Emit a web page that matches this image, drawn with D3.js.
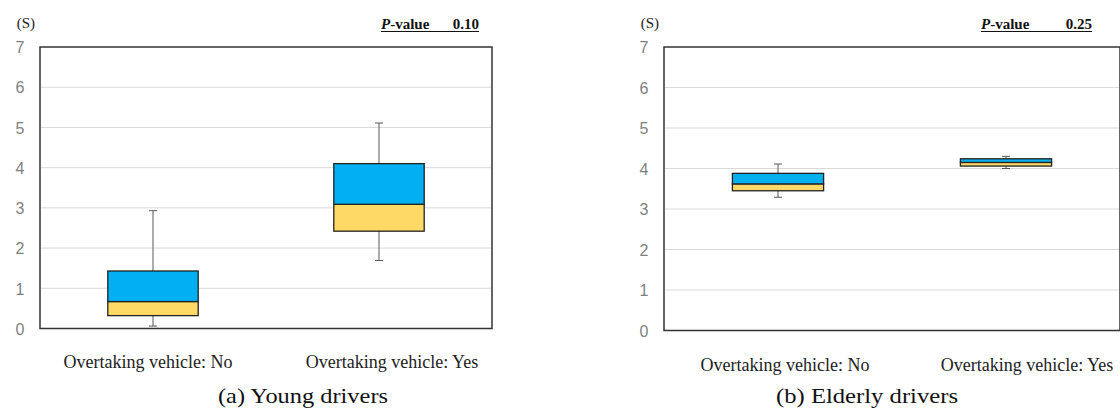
<!DOCTYPE html>
<html>
<head>
<meta charset="utf-8">
<script src="https://cdn.jsdelivr.net/npm/d3@7.9.0/dist/d3.min.js"></script>
<style>
  html, body { margin: 0; padding: 0; background: #fff; }
  svg { display: block; font-family: 'Times New Roman', 'Liberation Serif', serif; }
</style>
</head>
<body>
<div id="chart"></div>
<script>
const categories = ['Overtaking vehicle: No', 'Overtaking vehicle: Yes'];
const yTicks = [0, 1, 2, 3, 4, 5, 6, 7];

// Young drivers
const youngMin = [0.06, 1.69];
const youngQ1 = [0.32, 2.42];
const youngMedian = [0.67, 3.09];
const youngQ3 = [1.43, 4.1];
const youngMax = [2.93, 5.11];

// Elderly drivers
const elderMin = [3.29, 4.0];
const elderQ1 = [3.45, 4.06];
const elderMedian = [3.62, 4.15];
const elderQ3 = [3.88, 4.24];
const elderMax = [4.11, 4.3];

const pValues = ['0.10', '0.25'];
const captions = ['(a) Young drivers', '(b) Elderly drivers'];

const colorUpper = '#00b0f0';
const colorLower = '#ffd966';
const whiskerColor = '#595959';
const serif = "'Times New Roman', 'Liberation Serif', serif";

const svg = d3.select('#chart')
  .append('svg')
  .attr('width', 1120)
  .attr('height', 410);

const toRows = (mins, q1s, meds, q3s, maxs) =>
  categories.map((c, i) => ({
    cat: c,
    min: mins[i],
    q1: q1s[i],
    median: meds[i],
    q3: q3s[i],
    max: maxs[i],
  }));

const panels = [
  {
    data: toRows(youngMin, youngQ1, youngMedian, youngQ3, youngMax),
    left: 40, right: 492, top: 47, bottom: 328.5,
    labelOffsets: [-5, 13], labelY: 368,
    pStart: 381, pEnd: 479,
    captionX: 303,
    pValue: pValues[0], caption: captions[0],
  },
  {
    data: toRows(elderMin, elderQ1, elderMedian, elderQ3, elderMax),
    left: 664, right: 1120, top: 47, bottom: 330.5,
    labelOffsets: [7, 21], labelY: 371,
    pStart: 981, pEnd: 1092,
    captionX: 867,
    pValue: pValues[1], caption: captions[1],
  },
];

panels.forEach(drawPanel);

function drawPanel(p) {
  const w = p.right - p.left;
  const h = p.bottom - p.top;
  const g = svg.append('g').attr('transform', `translate(${p.left},${p.top})`);

  const x = d3.scaleBand().domain(categories).range([0, w]).padding(0);
  const y = d3.scaleLinear().domain([0, 7]).range([h, 0]);

  // gridlines
  g.append('g')
    .selectAll('line')
    .data(yTicks.filter((t) => t > 0 && t < 7))
    .join('line')
    .attr('x1', 0)
    .attr('x2', w)
    .attr('y1', (d) => y(d))
    .attr('y2', (d) => y(d))
    .attr('stroke', '#d9d9d9')
    .attr('stroke-width', 1);

  // y axis labels
  const yAxis = g.append('g')
    .call(d3.axisLeft(y).tickValues(yTicks).tickSize(0).tickPadding(0).tickFormat(d3.format('d')));
  yAxis.select('.domain').remove();
  yAxis.selectAll('text')
    .attr('x', -20)
    .attr('text-anchor', 'middle')
    .attr('fill', '#7f7f7f')
    .style('font-size', '16px')
    .style('font-family', "'Liberation Sans', Arial, sans-serif")
    .attr('dy', '0.36em');

  // unit label
  g.append('text')
    .attr('x', -5)
    .attr('y', -19)
    .attr('text-anchor', 'end')
    .attr('fill', '#222')
    .style('font-size', '15px')
    .text('(S)');

  // p-value, underlined across the gap
  const px0 = p.pStart - p.left;
  const px1 = p.pEnd - p.left;
  const pv = g.append('text')
    .attr('x', px0)
    .attr('y', -18)
    .attr('fill', '#111')
    .style('font-size', '15px')
    .style('font-weight', 'bold');
  pv.append('tspan').style('font-style', 'italic').text('P');
  pv.append('tspan').text('-value');
  g.append('text')
    .attr('x', px1)
    .attr('y', -18)
    .attr('text-anchor', 'end')
    .attr('fill', '#111')
    .style('font-size', '15px')
    .style('font-weight', 'bold')
    .text(p.pValue);
  g.append('line')
    .attr('x1', px0).attr('x2', px1)
    .attr('y1', -15.5).attr('y2', -15.5)
    .attr('stroke', '#111')
    .attr('stroke-width', 1);

  const bw = x.bandwidth() * 0.4;
  const cx = (d) => x(d.cat) + x.bandwidth() / 2;

  const boxes = g.append('g')
    .selectAll('g')
    .data(p.data)
    .join('g');

  // whiskers
  boxes.append('line')
    .attr('x1', cx).attr('x2', cx)
    .attr('y1', (d) => y(d.max)).attr('y2', (d) => y(d.q3))
    .attr('stroke', whiskerColor);
  boxes.append('line')
    .attr('x1', cx).attr('x2', cx)
    .attr('y1', (d) => y(d.q1)).attr('y2', (d) => y(d.min))
    .attr('stroke', whiskerColor);
  ['max', 'min'].forEach((k) => {
    boxes.append('line')
      .attr('x1', (d) => cx(d) - 4).attr('x2', (d) => cx(d) + 4)
      .attr('y1', (d) => y(d[k])).attr('y2', (d) => y(d[k]))
      .attr('stroke', whiskerColor);
  });

  // lower (Q1–median) and upper (median–Q3) boxes
  boxes.append('rect')
    .attr('x', (d) => cx(d) - bw / 2)
    .attr('width', bw)
    .attr('y', (d) => y(d.median))
    .attr('height', (d) => y(d.q1) - y(d.median))
    .attr('fill', colorLower)
    .attr('stroke', '#222')
    .attr('stroke-width', 1.3);
  boxes.append('rect')
    .attr('x', (d) => cx(d) - bw / 2)
    .attr('width', bw)
    .attr('y', (d) => y(d.q3))
    .attr('height', (d) => y(d.median) - y(d.q3))
    .attr('fill', colorUpper)
    .attr('stroke', '#222')
    .attr('stroke-width', 1.3);

  // frame
  g.append('rect')
    .attr('x', 0).attr('y', 0)
    .attr('width', w).attr('height', h)
    .attr('fill', 'none')
    .attr('stroke', '#333')
    .attr('stroke-width', 1.5);

  // category labels
  g.append('g')
    .selectAll('text')
    .data(categories)
    .join('text')
    .attr('x', (d, i) => x(d) + x.bandwidth() / 2 + p.labelOffsets[i])
    .attr('y', p.labelY - p.top)
    .attr('text-anchor', 'middle')
    .attr('fill', '#222')
    .style('font-size', '18px')
    .text((d) => d);

  // caption
  svg.append('text')
    .attr('x', p.captionX)
    .attr('y', 403)
    .attr('text-anchor', 'middle')
    .attr('fill', '#111')
    .style('font-size', '22px')
    .attr('textLength', p === panels[0] ? 170 : 182)
    .attr('lengthAdjust', 'spacingAndGlyphs')
    .text(p.caption);
}
</script>
</body>
</html>
